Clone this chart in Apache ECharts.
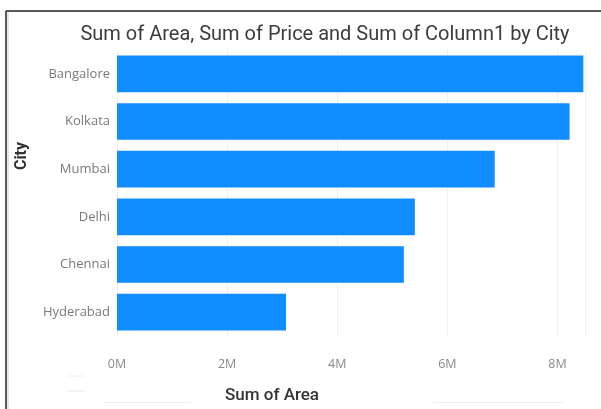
<!DOCTYPE html>
<html>
<head>
<meta charset="utf-8">
<script src="https://cdn.jsdelivr.net/npm/echarts@6/dist/echarts.min.js"></script>
<style>
html,body{margin:0;padding:0;background:#fff;}
#c{width:601px;height:409px;}
</style>
</head>
<body>
<div id="c"></div>
<script>
const titleText = "Sum of Area, Sum of Price and Sum of Column1 by City";
const cities = ["Bangalore", "Kolkata", "Mumbai", "Delhi", "Chennai", "Hyderabad"];
const sumOfArea = [8470000, 8220000, 6860000, 5410000, 5210000, 3070000];
const xTicks = [0, 2000000, 4000000, 6000000, 8000000];
const xAxisName = "Sum of Area";
const yAxisName = "City";

const chart = echarts.init(document.getElementById('c'), null, {renderer: 'canvas'});
const FONT = 'Roboto';
const LFONT = 'Open Sans';
chart.setOption({
  animation: false,
  backgroundColor: '#fff',
  title: {
    text: titleText,
    left: 320, top: 20, textAlign: 'center',
    textStyle: {fontFamily: FONT, fontSize: 20, fontWeight: 'normal', color: '#3c3c3c'}
  },
  graphic: [
    {type: 'line', shape: {x1: 6, y1: 11, x2: 601, y2: 11}, style: {stroke: '#222', lineWidth: 1.5}},
    {type: 'line', shape: {x1: 6, y1: 11, x2: 6, y2: 409}, style: {stroke: '#222', lineWidth: 1.5}},
    {type: 'line', shape: {x1: 8, y1: 12.5, x2: 8, y2: 409}, style: {stroke: '#ccc', lineWidth: 1}},
    {type: 'line', shape: {x1: 68, y1: 376, x2: 84, y2: 376}, style: {stroke: '#eee', lineWidth: 1}},
    {type: 'line', shape: {x1: 68, y1: 391, x2: 84, y2: 391}, style: {stroke: '#e6e6e6', lineWidth: 1}},
    {type: 'line', shape: {x1: 103, y1: 402.5, x2: 191, y2: 402.5}, style: {stroke: '#eee', lineWidth: 1}},
    {type: 'line', shape: {x1: 433, y1: 402.5, x2: 563, y2: 402.5}, style: {stroke: '#eee', lineWidth: 1}}
  ],
  grid: {left: 117, right: 16, top: 50, bottom: 69, containLabel: false},
  xAxis: {
    type: 'value', min: 0, max: 8500000, interval: 2000000,
    name: xAxisName, nameLocation: 'middle', nameGap: 51,
    nameTextStyle: {fontFamily: FONT, fontSize: 17, fontWeight: 500, color: '#333', padding: [0, 158, 0, 0], align: 'center'},
    axisLine: {show: false}, axisTick: {show: false},
    splitLine: {show: true, lineStyle: {color: '#f0f0f0', width: 1}},
    axisLabel: {
      fontFamily: LFONT, fontSize: 12.5, color: '#8a8a8a', margin: 22,
      formatter: v => xTicks.includes(v) ? (v / 1000000) + 'M' : ''
    }
  },
  yAxis: {
    type: 'category', data: cities, inverse: true,
    name: yAxisName, nameLocation: 'middle', nameGap: 87, nameRotate: 90,
    nameTextStyle: {fontFamily: FONT, fontSize: 16, fontWeight: 'bold', color: '#333', padding: [0, 0, 0, 74]},
    axisLine: {show: false}, axisTick: {show: false},
    axisLabel: {fontFamily: LFONT, fontSize: 13, color: '#7a7a7a', margin: 7}
  },
  series: [{
    type: 'bar', data: sumOfArea, barCategoryGap: '23%',
    itemStyle: {color: '#118DFF'}
  }]
});
</script>
</body>
</html>
